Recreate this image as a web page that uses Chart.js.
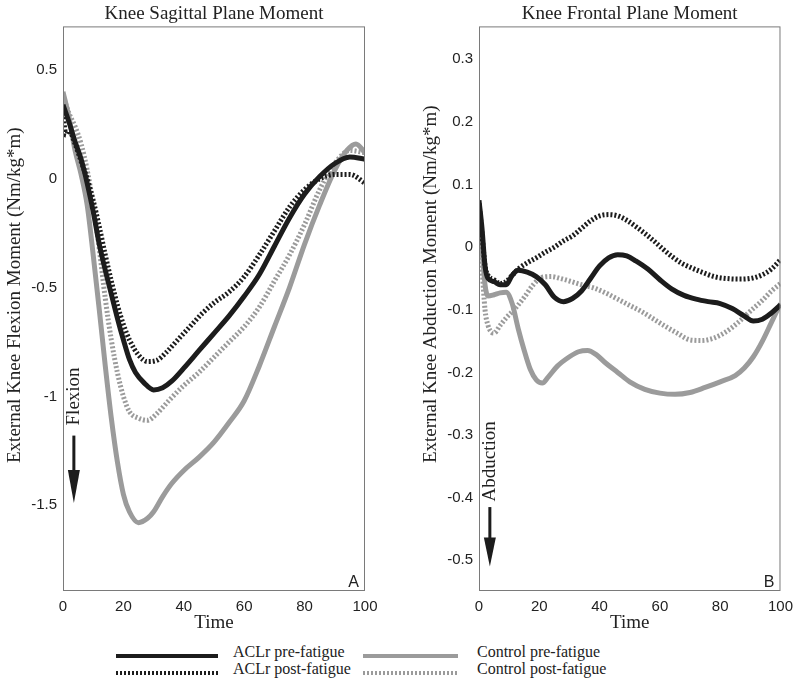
<!DOCTYPE html>
<html>
<head>
<meta charset="utf-8">
<script src="https://cdn.jsdelivr.net/npm/chart.js@4.4.1/dist/chart.umd.min.js"></script>
<style>
body { margin: 0; background: #fff; width: 800px; height: 697px; position: relative; overflow: hidden; }
canvas { position: absolute; top: 0; }
#sag { left: 0; }
#fr { left: 400px; }
.key { position: absolute; height: 4px; }
.lbl { position: absolute; font: 16px/16px "Liberation Serif"; color: #222; white-space: nowrap; }
</style>
</head>
<body>
<canvas id="sag" width="400" height="640"></canvas>
<canvas id="fr" width="400" height="640"></canvas>
<div id="legend"></div>
<script>
// series names / styles (legend order)
var seriesNames = ['ACLr pre-fatigue', 'ACLr post-fatigue', 'Control pre-fatigue', 'Control post-fatigue'];
var black = '#1c1c1c', gray = '#9b9b9b';
var seriesColors = [black, black, gray, gray];
var seriesDotted = [false, true, false, true];

var xTicks = [0, 20, 40, 60, 80, 100];
var sagTicks = [0.5, 0, -0.5, -1, -1.5];
var frTicks = [0.3, 0.2, 0.1, 0, -0.1, -0.2, -0.3, -0.4, -0.5];

// A - sagittal plane moment
var sagAclrPreT = [0,2,4,6,8,10,12,14,16,18,20,22,24,27,30,33,36,40,45,50,55,60,65,70,75,80,85,90,95,100];
var sagAclrPreV = [0.34,0.26,0.17,0.09,-0.02,-0.15,-0.30,-0.42,-0.53,-0.64,-0.74,-0.83,-0.89,-0.94,-0.97,-0.96,-0.93,-0.87,-0.79,-0.71,-0.63,-0.54,-0.44,-0.31,-0.18,-0.07,0.01,0.07,0.10,0.09];

var sagAclrPostT = [0,1,2,4,6,8,10,12,14,16,18,20,22,25,28,31,34,38,42,46,50,55,60,65,70,75,80,85,90,95,100];
var sagAclrPostV = [0.30,0.20,0.22,0.16,0.08,0.0,-0.10,-0.22,-0.35,-0.47,-0.58,-0.67,-0.74,-0.81,-0.84,-0.835,-0.80,-0.74,-0.68,-0.62,-0.57,-0.52,-0.45,-0.35,-0.24,-0.13,-0.05,0.0,0.02,0.02,-0.02];

var sagCtrlPreT = [0,2,4,6,8,10,12,14,16,18,20,22,25,28,30,33,36,40,45,50,55,60,65,70,75,80,85,90,94,97,100];
var sagCtrlPreV = [0.40,0.28,0.13,0.02,-0.12,-0.35,-0.60,-0.86,-1.10,-1.30,-1.45,-1.53,-1.58,-1.56,-1.53,-1.46,-1.40,-1.34,-1.28,-1.21,-1.12,-1.02,-0.86,-0.68,-0.50,-0.30,-0.12,0.04,0.13,0.16,0.12];

var sagCtrlPostT = [0,2,4,6,8,10,12,14,16,18,20,22,25,28,31,35,40,45,50,55,60,65,70,75,80,85,90,95,100];
var sagCtrlPostV = [0.38,0.30,0.24,0.16,0.04,-0.12,-0.32,-0.55,-0.74,-0.89,-1.00,-1.07,-1.10,-1.11,-1.08,-1.02,-0.95,-0.89,-0.82,-0.75,-0.68,-0.59,-0.47,-0.35,-0.21,-0.05,0.07,0.13,0.12];

// B - frontal plane moment
var frAclrPreT = [0,1,2,3,5,7,9,11,13,16,19,22,25,28,31,34,37,40,43,46,49,52,56,60,64,68,72,76,80,84,88,91,94,97,100];
var frAclrPreV = [0.075,0.03,-0.03,-0.05,-0.055,-0.06,-0.06,-0.045,-0.037,-0.04,-0.047,-0.06,-0.08,-0.087,-0.082,-0.07,-0.05,-0.03,-0.017,-0.012,-0.014,-0.022,-0.035,-0.052,-0.067,-0.077,-0.083,-0.087,-0.09,-0.098,-0.11,-0.118,-0.115,-0.105,-0.092];

var frAclrPostT = [0,1,2,3,5,7,9,11,13,16,19,22,25,28,31,34,37,40,43,46,49,52,55,58,61,64,67,70,74,78,82,86,90,94,97,100];
var frAclrPostV = [0.07,0.02,-0.03,-0.045,-0.052,-0.058,-0.055,-0.045,-0.035,-0.025,-0.017,-0.008,0.0,0.01,0.018,0.03,0.042,0.05,0.052,0.05,0.043,0.033,0.022,0.01,-0.003,-0.015,-0.025,-0.032,-0.04,-0.047,-0.05,-0.051,-0.05,-0.044,-0.035,-0.02];

var frCtrlPreT = [0,1,2,3,5,7,9,11,13,15,17,19,21,23,26,30,33,36,39,42,46,50,55,60,65,70,75,80,85,88,91,94,97,100];
var frCtrlPreV = [0.065,0.0,-0.06,-0.078,-0.076,-0.073,-0.072,-0.09,-0.13,-0.165,-0.195,-0.212,-0.217,-0.207,-0.19,-0.175,-0.167,-0.165,-0.172,-0.185,-0.2,-0.215,-0.227,-0.233,-0.235,-0.232,-0.224,-0.215,-0.205,-0.193,-0.175,-0.15,-0.12,-0.09];

var frCtrlPostT = [0,1,2,3,4,5,7,9,12,15,18,21,24,27,30,34,38,42,46,50,54,58,62,66,70,74,78,82,86,90,94,97,100];
var frCtrlPostV = [0.06,-0.03,-0.10,-0.125,-0.135,-0.137,-0.125,-0.113,-0.098,-0.08,-0.06,-0.048,-0.047,-0.05,-0.054,-0.06,-0.065,-0.073,-0.083,-0.093,-0.103,-0.115,-0.127,-0.138,-0.148,-0.149,-0.145,-0.135,-0.12,-0.102,-0.085,-0.07,-0.058];

Chart.defaults.font.family = '"Liberation Sans", Arial, sans-serif';
Chart.defaults.color = '#222';

function pts(t, v) {
    return t.map(function (x, i) { return { x: x, y: v[i] }; });
}

function buildSets(list) {
    return list.map(function (s, i) {
        return {
            label: seriesNames[i],
            data: pts(s[0], s[1]),
            borderColor: seriesColors[i],
            borderWidth: 5,
            borderDash: seriesDotted[i] ? [2, 2] : [],
            borderCapStyle: 'butt',
            pointRadius: 0,
            cubicInterpolationMode: 'monotone',
            fill: false
        };
    });
}

// plain tick text: 0.5, 0, -1, -0.1 ...
function tickText(v) {
    return String(Math.round(v * 10) / 10);
}

// box, corner letter, direction arrow and side titles
var framePlugin = {
    id: 'frame',
    afterDraw: function (chart, args, o) {
        var ctx = chart.ctx, a = chart.chartArea;
        var xs = chart.scales.x, ys = chart.scales.y;
        ctx.save();
        ctx.strokeStyle = '#7a7a7a';
        ctx.lineWidth = 1;
        ctx.strokeRect(a.left + 0.5, a.top + 0.5, a.right - a.left - 1, a.bottom - a.top - 1);

        ctx.fillStyle = '#222';
        ctx.font = '16px "Liberation Sans"';
        ctx.textAlign = 'right';
        ctx.textBaseline = 'alphabetic';
        ctx.fillText(o.letter, a.right - 6, a.bottom - 4);

        var ax = xs.getPixelForValue(o.noteX);
        var y1 = ys.getPixelForValue(o.arrowFrom), y2 = ys.getPixelForValue(o.arrowTo);
        ctx.fillStyle = '#1c1c1c';
        ctx.fillRect(ax - 1.5, y1, 3, y2 - y1 - 28);
        ctx.beginPath();
        ctx.moveTo(ax - 6, y2 - o.head);
        ctx.lineTo(ax + 6, y2 - o.head);
        ctx.lineTo(ax, y2);
        ctx.closePath();
        ctx.fill();
        ctx.restore();

        ctx.save();
        ctx.translate(ax, ys.getPixelForValue(o.noteY));
        ctx.rotate(-Math.PI / 2);
        ctx.font = '19px "Liberation Serif"';
        ctx.fillStyle = '#222';
        ctx.textAlign = 'center';
        ctx.textBaseline = 'middle';
        ctx.fillText(o.note, 0, 0);
        ctx.restore();

        ctx.save();
        ctx.translate(o.yTitleX, (a.top + a.bottom) / 2 + o.yTitleShift);
        ctx.rotate(-Math.PI / 2);
        ctx.font = '19px "Liberation Serif"';
        ctx.fillStyle = '#222';
        ctx.textAlign = 'center';
        ctx.textBaseline = 'middle';
        ctx.fillText(o.yTitle, 0, 0);
        ctx.restore();
    }
};

function makeChart(id, title, sets, yMin, yMax, yTicks, yW, padRight, frame) {
    return new Chart(document.getElementById(id).getContext('2d'), {
        type: 'line',
        data: { datasets: buildSets(sets) },
        options: {
            responsive: false,
            animation: false,
            events: [],
            layout: { padding: { left: 0, right: padRight, top: 0, bottom: 0 } },
            plugins: {
                legend: { display: false },
                tooltip: { enabled: false },
                title: {
                    display: true,
                    text: title,
                    fullSize: false,
                    color: '#222',
                    font: { family: '"Liberation Serif"', size: 19, weight: 'normal' },
                    padding: { top: 3, bottom: 0.6 }
                },
                frame: frame
            },
            scales: {
                x: {
                    type: 'linear',
                    min: 0,
                    max: 100,
                    afterBuildTicks: function (s) { s.ticks = xTicks.map(function (v) { return { value: v }; }); },
                    afterFit: function (s) { s.height = 49; },
                    grid: { display: false, drawTicks: false },
                    border: { display: false },
                    ticks: { padding: 7, font: { size: 15 }, color: '#222', maxRotation: 0, callback: tickText },
                    title: {
                        display: true,
                        text: 'Time',
                        color: '#222',
                        font: { family: '"Liberation Serif"', size: 19 },
                        padding: { top: 0, bottom: 5.6 }
                    }
                },
                y: {
                    type: 'linear',
                    min: yMin,
                    max: yMax,
                    afterBuildTicks: function (s) { s.ticks = yTicks.map(function (v) { return { value: v }; }); },
                    afterFit: function (s) { s.width = yW; },
                    grid: { display: false, drawTicks: false },
                    border: { display: false },
                    ticks: { padding: 6, font: { size: 15 }, color: '#222', callback: tickText }
                }
            }
        },
        plugins: [framePlugin]
    });
}

makeChart('sag', 'Knee Sagittal Plane Moment',
    [[sagAclrPreT, sagAclrPreV], [sagAclrPostT, sagAclrPostV], [sagCtrlPreT, sagCtrlPreV], [sagCtrlPostT, sagCtrlPostV]],
    -1.894, 0.70, sagTicks, 63, 35,
    { letter: 'A', note: 'Flexion', noteX: 3.6, noteY: -1.0, arrowFrom: -1.18, arrowTo: -1.49, head: 33,
      yTitle: 'External Knee Flexion Moment (Nm/kg*m)', yTitleX: 15, yTitleShift: -13.5 });

makeChart('fr', 'Knee Frontal Plane Moment',
    [[frAclrPreT, frAclrPreV], [frAclrPostT, frAclrPostV], [frCtrlPreT, frCtrlPreV], [frCtrlPostT, frCtrlPostV]],
    -0.549, 0.3525, frTicks, 79, 18,
    { letter: 'B', note: 'Abduction', noteX: 3.6, noteY: -0.342, arrowFrom: -0.415, arrowTo: -0.51, head: 29,
      yTitle: 'External Knee Abduction Moment (Nm/kg*m)', yTitleX: 31.5, yTitleShift: -24.5 });

// shared legend below both panels
var legend = document.getElementById('legend');
var keyLeft = [116, 363], keyLen = [102, 95], textLeft = [233, 477], rowY = [656, 673];
seriesNames.forEach(function (name, i) {
    var col = i < 2 ? 0 : 1, row = i % 2;
    var k = document.createElement('div');
    k.className = 'key';
    k.style.left = keyLeft[col] + 'px';
    k.style.width = keyLen[col] + 'px';
    k.style.top = (rowY[row] - 2) + 'px';
    k.style.background = seriesDotted[i]
        ? 'repeating-linear-gradient(90deg,' + seriesColors[i] + ' 0 2px, transparent 2px 4px)'
        : seriesColors[i];
    legend.appendChild(k);
    var t = document.createElement('div');
    t.className = 'lbl';
    t.style.left = textLeft[col] + 'px';
    t.style.top = (rowY[row] - 12) + 'px';
    t.textContent = name;
    legend.appendChild(t);
});
</script>
</body>
</html>
